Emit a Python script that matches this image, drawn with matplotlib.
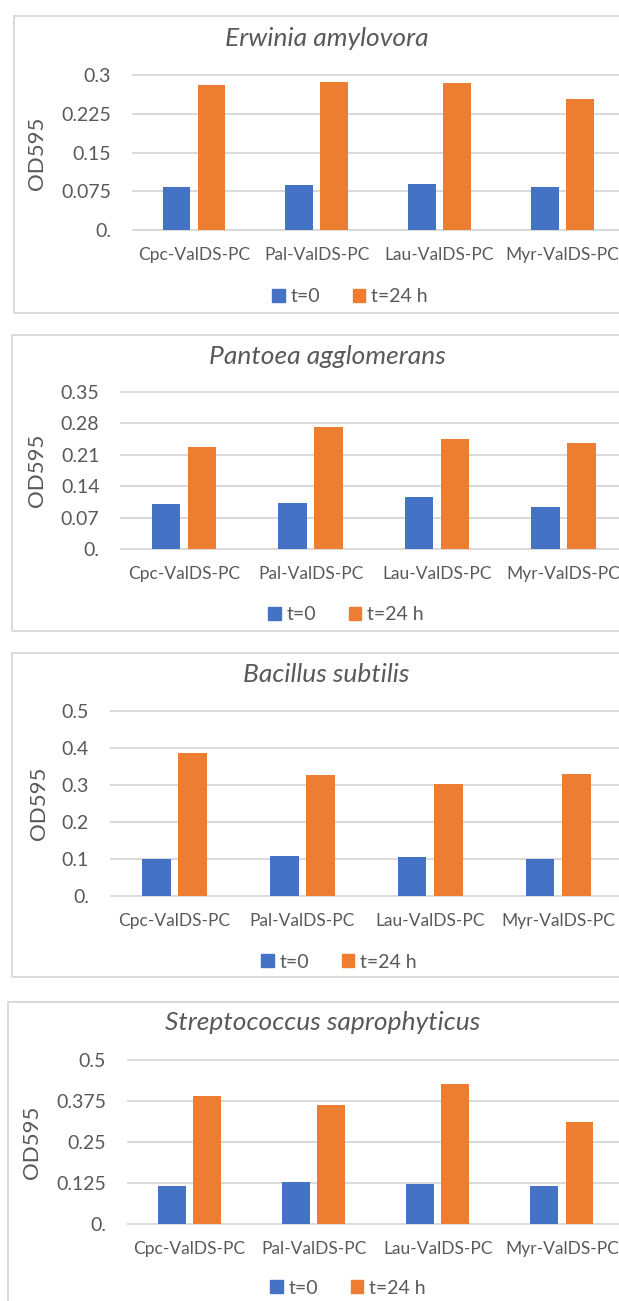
import matplotlib
matplotlib.use("Agg")
import matplotlib.pyplot as plt
from matplotlib.patches import Rectangle, Patch

plt.rcParams["font.family"] = ["Lato", "DejaVu Sans"]

W, H = 619, 1301
DPI = 100

# ─── data ───────────────────────────────────────────────────────────────
categories = ["Cpc-ValDS-PC", "Pal-ValDS-PC", "Lau-ValDS-PC", "Myr-ValDS-PC"]
series_names = ["t=0", "t=24 h"]
titles = ["Erwinia amylovora", "Pantoea agglomerans",
          "Bacillus subtilis", "Streptococcus saprophyticus"]

erwinia_t0 = [0.083, 0.088, 0.090, 0.083]
erwinia_t24 = [0.280, 0.286, 0.285, 0.254]
pantoea_t0 = [0.100, 0.103, 0.116, 0.093]
pantoea_t24 = [0.227, 0.272, 0.246, 0.237]
bacillus_t0 = [0.100, 0.108, 0.106, 0.099]
bacillus_t24 = [0.386, 0.327, 0.304, 0.330]
strepto_t0 = [0.117, 0.128, 0.123, 0.116]
strepto_t24 = [0.390, 0.363, 0.428, 0.310]

erwinia_ticks = [0, 0.075, 0.15, 0.225, 0.3]
erwinia_labels = ["0.", "0.075", "0.15", "0.225", "0.3"]
pantoea_ticks = [0, 0.07, 0.14, 0.21, 0.28, 0.35]
pantoea_labels = ["0.", "0.07", "0.14", "0.21", "0.28", "0.35"]
bacillus_ticks = [0, 0.1, 0.2, 0.3, 0.4, 0.5]
bacillus_labels = ["0.", "0.1", "0.2", "0.3", "0.4", "0.5"]
strepto_ticks = [0, 0.125, 0.25, 0.375, 0.5]
strepto_labels = ["0.", "0.125", "0.25", "0.375", "0.5"]

# ─── layout (pixels) ────────────────────────────────────────────────────
BLUE = "#4472C4"
ORANGE = "#ED7D31"
GRID = "#D9D9D9"
TXT = "#595959"

panels = [
    dict(t0=erwinia_t0, t24=erwinia_t24, ticks=erwinia_ticks, labels=erwinia_labels,
         left=132.5, top=75, bottom=230, step=122.8, box=(14, 16, 313),
         title_xy=(327, 38), ylab_xy=(37, 153), leg_xy=(350, 297)),
    dict(t0=pantoea_t0, t24=pantoea_t24, ticks=pantoea_ticks, labels=pantoea_labels,
         left=121, top=392, bottom=549, step=126.4, box=(12, 335, 631),
         title_xy=(327, 357), ylab_xy=(37, 470), leg_xy=(346, 615)),
    dict(t0=bacillus_t0, t24=bacillus_t24, ticks=bacillus_ticks, labels=bacillus_labels,
         left=110.5, top=711, bottom=896, step=127.9, box=(12, 653, 977),
         title_xy=(326, 675), ylab_xy=(39, 803), leg_xy=(339, 962)),
    dict(t0=strepto_t0, t24=strepto_t24, ticks=strepto_ticks, labels=strepto_labels,
         left=127.5, top=1060, bottom=1224, step=124.1, box=(8, 1002, 1320),
         title_xy=(323, 1023), ylab_xy=(32, 1142), leg_xy=(348, 1288)),
]

BAR_W = 0.225
OFFSET = 0.142


def fx(px):
    return px / W


def fy(py):
    return 1 - py / H


fig = plt.figure(figsize=(W / DPI, H / DPI), dpi=DPI)
fig.patch.set_facecolor("white")

for p, title in zip(panels, titles):
    # outer chart frame (runs off the right edge like the source)
    bx, btop, bbot = p["box"]
    fig.patches.append(Rectangle((fx(bx), fy(bbot)), fx(W + 20 - bx), (bbot - btop) / H,
                                 transform=fig.transFigure, fill=False,
                                 edgecolor=GRID, linewidth=1.4, zorder=0))

    ax = fig.add_axes([fx(p["left"]), fy(p["bottom"]), fx(W - p["left"]),
                       (p["bottom"] - p["top"]) / H])
    x = list(range(len(categories)))
    ax.bar([i - OFFSET for i in x], p["t0"], width=BAR_W, color=BLUE, zorder=3)
    ax.bar([i + OFFSET for i in x], p["t24"], width=BAR_W, color=ORANGE, zorder=3)

    ax.set_xlim(-0.5, -0.5 + (W - p["left"]) / p["step"])
    ax.set_ylim(0, p["ticks"][-1])
    ax.set_yticks(p["ticks"])
    ax.set_yticklabels(p["labels"])
    ax.set_xticks(x)
    ax.set_xticklabels(categories)
    ax.tick_params(axis="y", length=0, pad=15.5, labelsize=14, labelcolor=TXT)
    ax.tick_params(axis="x", length=0, pad=12.5, labelsize=12.5, labelcolor=TXT)
    ax.grid(axis="y", color=GRID, linewidth=1.4)
    ax.set_axisbelow(True)
    for line in ax.get_ygridlines():
        line.set_clip_on(False)
    for s in ax.spines.values():
        s.set_visible(False)
    ax.patch.set_alpha(0)

    tx, ty = p["title_xy"]
    fig.text(fx(tx), fy(ty), title, ha="center", va="center",
             fontsize=19, style="italic", color=TXT)
    lx, ly = p["ylab_xy"]
    fig.text(fx(lx), fy(ly), "OD595", ha="center", va="center",
             rotation=90, fontsize=16, color=TXT)
    gx, gy = p["leg_xy"]
    handles = [Patch(color=BLUE, label=series_names[0]),
               Patch(color=ORANGE, label=series_names[1])]
    fig.legend(handles=handles, loc="center", bbox_to_anchor=(fx(gx), fy(gy)),
               ncol=2, frameon=False, fontsize=14, labelcolor=TXT,
               handlelength=0.65, handleheight=0.65, handletextpad=0.3,
               columnspacing=1.65, borderpad=0)

fig.savefig("out.png", dpi=DPI)
